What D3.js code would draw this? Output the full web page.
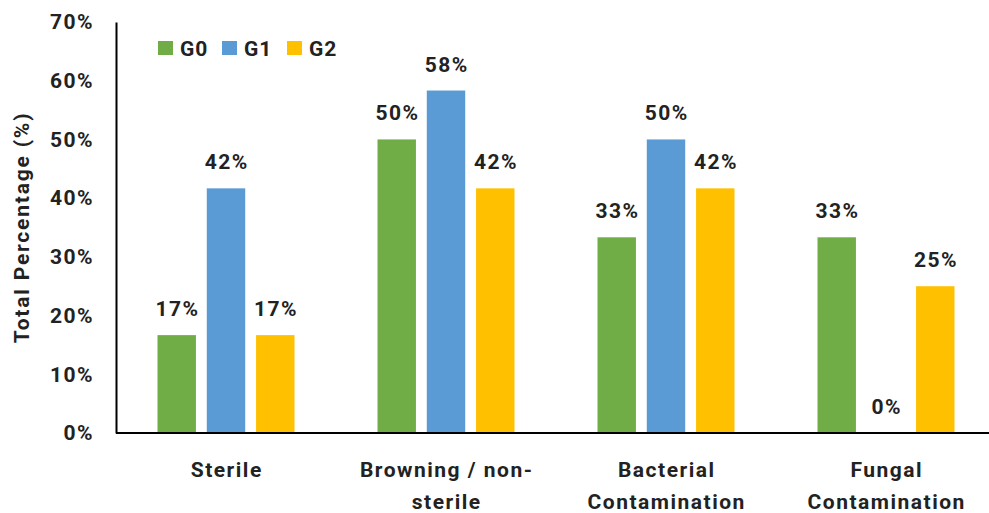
<!DOCTYPE html>
<html>
<head>
<meta charset="utf-8">
<script src="https://cdn.jsdelivr.net/npm/d3@7"></script>
<style>
  body { margin: 0; background: #fff; }
  svg text { font-family: Roboto, "Liberation Sans", sans-serif; font-weight: 700; fill: #222; }
</style>
</head>
<body>
<svg id="chart" width="989" height="513"></svg>
<script>
// Categories (multi-line labels) and series values in percent
const categories = [["Sterile"], ["Browning / non-", "sterile"], ["Bacterial", "Contamination"], ["Fungal", "Contamination"]];
const seriesNames = ["G0", "G1", "G2"];
const seriesColors = ["#70AD47", "#5B9BD5", "#FFC000"];
const g0 = [16.67, 50, 33.33, 33.33];
const g1 = [41.67, 58.33, 50, 0];
const g2 = [16.67, 41.67, 41.67, 25];
const yTicks = [0, 10, 20, 30, 40, 50, 60, 70];

const series = [g0, g1, g2];
const svg = d3.select("#chart");
const margin = { left: 116, right: -7, top: 22, bottom: 80 };
const W = 989, H = 513;
const FS = 21, LS = 1.5;
const GROUP = 137;

const x0 = d3.scaleBand().domain(d3.range(categories.length)).range([margin.left, W - margin.right]).paddingInner(0).paddingOuter(0);
const x1 = d3.scaleBand().domain(d3.range(series.length)).range([0, GROUP]).paddingInner(0.22);
const y = d3.scaleLinear().domain([0, 70]).range([H - margin.bottom, margin.top]);
const barX = (i, si) => x0(i) + (x0.bandwidth() - GROUP) / 2 + x1(si);

// Bars with value labels
series.forEach((vals, si) => {
  svg.append("g").selectAll("rect").data(vals).join("rect")
    .attr("x", (d, i) => barX(i, si))
    .attr("width", x1.bandwidth())
    .attr("y", d => y(d))
    .attr("height", d => y(0) - y(d))
    .attr("fill", seriesColors[si]);
  svg.append("g").selectAll("text").data(vals).join("text")
    .attr("x", (d, i) => barX(i, si) + x1.bandwidth() / 2 + LS / 2)
    .attr("y", d => y(d) - 19)
    .attr("text-anchor", "middle")
    .attr("font-size", FS)
    .attr("letter-spacing", LS)
    .text(d => Math.round(d) + "%");
});

// Y axis
const yAxis = svg.append("g").attr("transform", `translate(${margin.left},0)`)
  .call(d3.axisLeft(y).tickValues(yTicks).tickSize(0).tickPadding(22).tickFormat(d => d + "%"));
yAxis.select(".domain").attr("stroke", "#000").attr("stroke-width", 2);
yAxis.selectAll("text")
  .attr("font-size", FS).attr("letter-spacing", LS).attr("fill", "#222")
  .style("font-family", "Roboto, sans-serif").style("font-weight", 700);

// X axis line
svg.append("line")
  .attr("x1", margin.left).attr("x2", W)
  .attr("y1", y(0)).attr("y2", y(0))
  .attr("stroke", "#000").attr("stroke-width", 2);

// Category labels
categories.forEach((lines, i) => {
  const cx = x0(i) + x0.bandwidth() / 2 + LS / 2;
  const t = svg.append("text")
    .attr("x", cx)
    .attr("y", 477)
    .attr("text-anchor", "middle")
    .attr("font-size", FS)
    .attr("letter-spacing", LS);
  lines.forEach((ln, k) => {
    t.append("tspan").attr("x", cx).attr("dy", k === 0 ? 0 : 32).text(ln);
  });
});

// Y axis title
svg.append("text")
  .attr("transform", `translate(29,${(y(0) + y(70)) / 2}) rotate(-90)`)
  .attr("text-anchor", "middle")
  .attr("font-size", FS)
  .attr("letter-spacing", 1.8)
  .text("Total Percentage  (%)");

// Legend
const legend = svg.append("g").attr("transform", "translate(158,41)");
const legendX = [0, 64, 129];
seriesNames.forEach((name, i) => {
  legend.append("rect").attr("x", legendX[i]).attr("y", 0).attr("width", 15).attr("height", 14).attr("fill", seriesColors[i]);
  legend.append("text").attr("x", legendX[i] + 22).attr("y", 15)
    .attr("font-size", FS).attr("letter-spacing", 1).text(name);
});
</script>
</body>
</html>
